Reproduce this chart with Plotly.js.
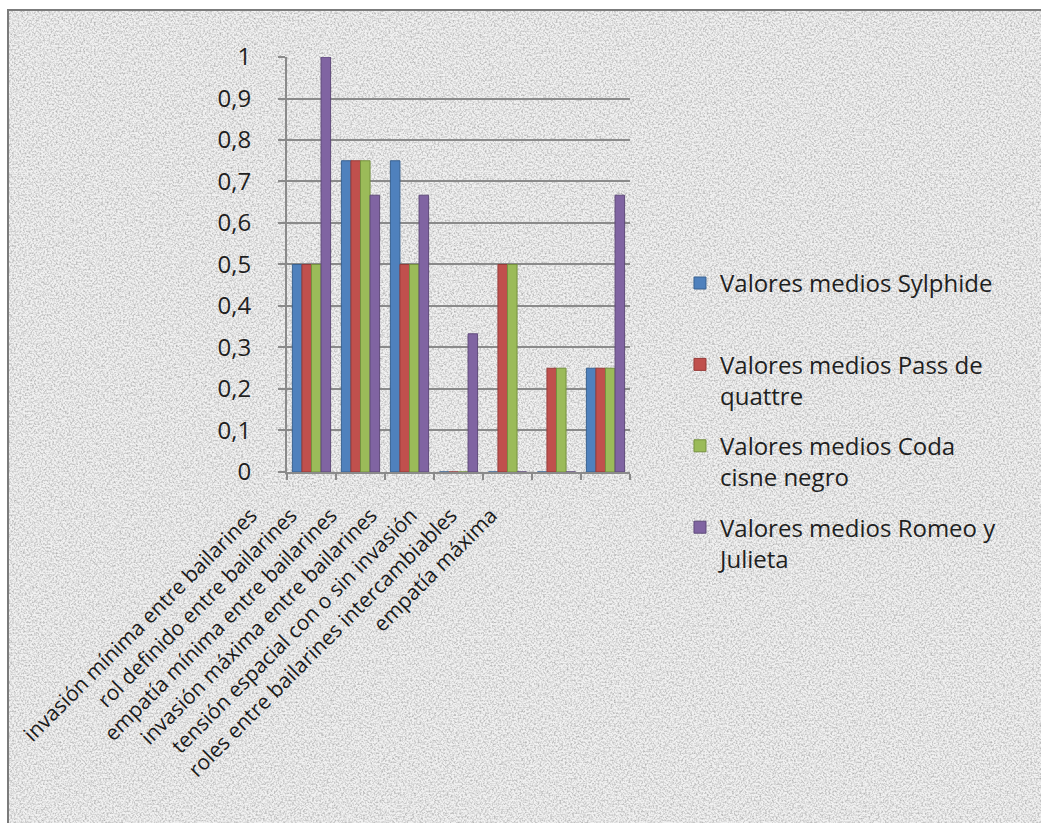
<!DOCTYPE html>
<html>
<head>
<meta charset="utf-8">
<script src="https://cdn.plot.ly/plotly-3.0.1.min.js"></script>
<style>
  html, body { margin: 0; padding: 0; width: 1041px; height: 823px; overflow: hidden; background: #ffffff; }
  #frame { position: absolute; left: 7px; top: 9px; width: 1034px; height: 814px;
           border-top: 2px solid #7b7b7b; border-left: 2px solid #7b7b7b; box-sizing: border-box; }
  #chart { position: absolute; left: 0; top: 0; width: 1041px; height: 823px; }
</style>
</head>
<body>
<div id="frame"></div>
<div id="chart"></div>
<script>
// Categories (criteria evaluated) and mean values per piece
const categories = [
  'invasión mínima entre bailarines',
  'rol definido entre bailarines',
  'empatía mínima entre bailarines',
  'invasión máxima entre bailarines',
  'tensión espacial con o sin invasión',
  'roles entre bailarines intercambiables',
  'empatía máxima'
];
const seriesNames = [
  'Valores medios Sylphide',
  'Valores medios Pass de<br>quattre',
  'Valores medios Coda<br>cisne negro',
  'Valores medios Romeo y<br>Julieta'
];
const sylphide = [0.5, 0.75, 0.75, 0, 0, 0, 0.25];
const passDeQuattre = [0.5, 0.75, 0.5, 0, 0.5, 0.25, 0.25];
const codaCisneNegro = [0.5, 0.75, 0.5, 0, 0.5, 0.25, 0.25];
const romeoJulieta = [1, 0.667, 0.667, 0.333, 0, 0, 0.667];
const yTicks = [0, 0.1, 0.2, 0.3, 0.4, 0.5, 0.6, 0.7, 0.8, 0.9, 1];

// Speckled grey texture for the chart area
const noiseSvg = "<svg xmlns='http://www.w3.org/2000/svg' width='1041' height='823'>" +
  "<filter id='n'><feTurbulence type='fractalNoise' baseFrequency='0.55' numOctaves='2' seed='7'/>" +
  "<feColorMatrix type='matrix' values='0 0 0 0 0 0 0 0 0 0 0 0 0 0 0 1.4 0 0 0 -0.55'/></filter>" +
  "<rect width='100%' height='100%' fill='#f1f1f1'/>" +
  "<rect width='100%' height='100%' filter='url(#n)' opacity='0.4'/></svg>";
document.getElementById('frame').style.backgroundImage =
  'url("data:image/svg+xml,' + encodeURIComponent(noiseSvg) + '")';

const colors = ['#4F81BD', '#C0504D', '#9BBB59', '#8064A2'];
const edges = ['#3A6291', '#963C3A', '#76913F', '#5F4A7A'];
const values = [sylphide, passDeQuattre, codaCisneNegro, romeoJulieta];

const names = seriesNames.slice();
names[0] = names[0] + '<br> ';

const traces = values.map((v, i) => ({
  type: 'bar',
  x: categories,
  y: v,
  name: names[i],
  legendgroup: 'g' + i,
  marker: { color: colors[i], line: { color: edges[i], width: 1 } },
  xaxis: 'x',
  yaxis: 'y',
  hoverinfo: 'x+y+name'
}));

// Carrier for the slanted category labels on the secondary x axis
traces.push({
  type: 'scatter',
  mode: 'markers',
  x: categories,
  y: sylphide,
  marker: { opacity: 0 },
  xaxis: 'x2',
  yaxis: 'y2',
  showlegend: false,
  hoverinfo: 'skip'
});

const textFont = { family: 'Open Sans, sans-serif', size: 24, color: '#1f1f1f' };

const layout = {
  width: 1041,
  height: 823,
  margin: { l: 200, r: 411, t: 57, b: 325, pad: 0 },
  paper_bgcolor: 'rgba(0,0,0,0)',
  plot_bgcolor: 'rgba(0,0,0,0)',
  separators: ',.',
  font: textFont,
  barmode: 'group',
  bargap: 0.22,
  bargroupgap: 0,
  showlegend: true,
  legend: {
    xref: 'container', yref: 'container',
    x: 0.6532, y: 0.683, xanchor: 'left', yanchor: 'top',
    bgcolor: 'rgba(0,0,0,0)',
    font: textFont,
    valign: 'top',
    traceorder: 'grouped',
    tracegroupgap: 16
  },
  xaxis: {
    domain: [0.2023, 1],
    anchor: 'y',
    type: 'category',
    range: [-0.5, 6.5],
    showticklabels: false,
    tickson: 'boundaries',
    ticks: 'outside',
    ticklen: 6,
    tickwidth: 2,
    tickcolor: '#8a8a8a',
    showline: true,
    linecolor: '#8a8a8a',
    linewidth: 2,
    showgrid: false,
    zeroline: false,
    fixedrange: true
  },
  yaxis: {
    anchor: 'x',
    domain: [0.059, 1],
    range: [0, 1],
    tickvals: yTicks,
    ticks: 'outside',
    ticklen: 7,
    tickwidth: 2,
    tickcolor: '#8a8a8a',
    ticklabelstandoff: 22,
    showline: true,
    linecolor: '#8a8a8a',
    linewidth: 2,
    showgrid: true,
    gridcolor: '#8a8a8a',
    gridwidth: 2,
    zeroline: false,
    tickfont: textFont,
    fixedrange: true
  },
  xaxis2: {
    domain: [0.0721, 0.7233],
    anchor: 'y2',
    type: 'category',
    range: [-0.5, 6.5],
    tickangle: -45,
    ticks: '',
    showline: false,
    showgrid: false,
    zeroline: false,
    tickfont: { family: 'Open Sans, sans-serif', size: 21, color: '#1a1a1a' },
    fixedrange: true
  },
  yaxis2: {
    domain: [0, 1],
    anchor: 'x2',
    range: [0, 1],
    visible: false,
    fixedrange: true
  }
};

Plotly.newPlot('chart', traces, layout, { displayModeBar: false, staticPlot: true });
</script>
</body>
</html>
